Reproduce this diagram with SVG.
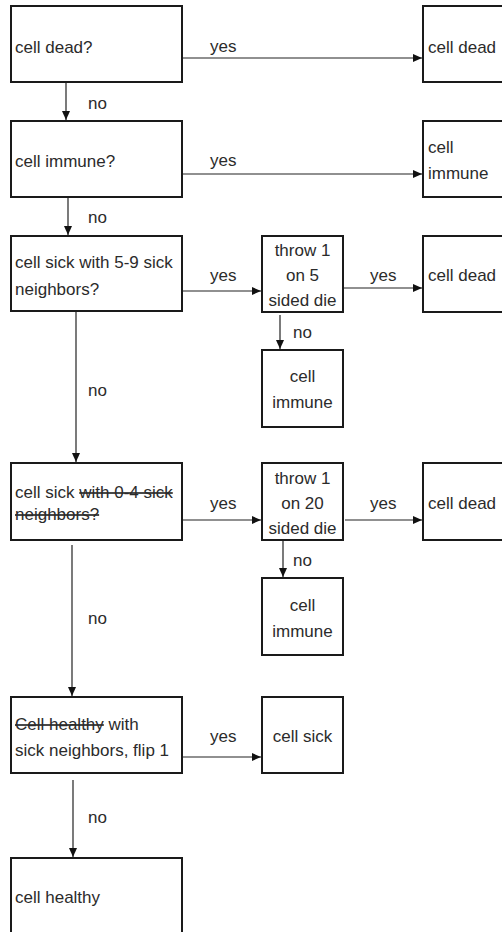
<svg xmlns="http://www.w3.org/2000/svg" width="502" height="932" viewBox="0 0 502 932">
  <style>
    .box { fill: #ffffff; stroke: #1a1a1a; stroke-width: 2; }
    .edge { fill: none; stroke: #222222; stroke-width: 1.2; marker-end: url(#arrow); }
    text { font-family: "Liberation Sans", Arial, sans-serif; font-size: 17px; fill: #2b2b2b; }
    .c { text-anchor: middle; }
    .strike { text-decoration: line-through; }
  </style>
  <defs>
    <marker id="arrow" markerUnits="userSpaceOnUse" markerWidth="10" markerHeight="9" refX="9" refY="4" orient="auto">
      <path d="M0,0 L9,4 L0,8 z" fill="#111111"/>
    </marker>
  </defs>

  <!-- connectors -->
  <g id="connectors">
    <line class="edge" x1="182" y1="58" x2="422" y2="58"/>
    <line class="edge" x1="66" y1="82" x2="66" y2="120"/>
    <line class="edge" x1="182" y1="174" x2="422" y2="174"/>
    <line class="edge" x1="68" y1="197" x2="68" y2="235"/>
    <line class="edge" x1="183" y1="291" x2="261" y2="291"/>
    <line class="edge" x1="343" y1="288" x2="422" y2="288"/>
    <line class="edge" x1="280" y1="315" x2="280" y2="349"/>
    <line class="edge" x1="76" y1="311" x2="76" y2="462"/>
    <line class="edge" x1="180" y1="520" x2="261" y2="520"/>
    <line class="edge" x1="345" y1="520" x2="422" y2="520"/>
    <line class="edge" x1="283" y1="540" x2="283" y2="577"/>
    <line class="edge" x1="72" y1="545" x2="72" y2="696"/>
    <line class="edge" x1="182" y1="757" x2="261" y2="757"/>
    <line class="edge" x1="73" y1="780" x2="73" y2="857"/>
  </g>

  <!-- edge labels -->
  <g id="labels">
    <text x="210" y="52">yes</text>
    <text x="88" y="109">no</text>
    <text x="210" y="166">yes</text>
    <text x="88" y="223">no</text>
    <text x="210" y="281">yes</text>
    <text x="370" y="281">yes</text>
    <text x="293" y="338">no</text>
    <text x="88" y="396">no</text>
    <text x="210" y="509">yes</text>
    <text x="370" y="509">yes</text>
    <text x="293" y="566">no</text>
    <text x="88" y="624">no</text>
    <text x="210" y="742">yes</text>
    <text x="88" y="823">no</text>
  </g>

  <g id="q-dead">
    <rect class="box" x="11" y="6" width="171" height="76"/>
    <text x="15" y="53">cell dead?</text>
  </g>
  <g id="r-dead-1">
    <rect class="box" x="423" y="6" width="100" height="76"/>
    <text x="428" y="53">cell dead</text>
  </g>

  <g id="q-immune">
    <rect class="box" x="11" y="121" width="171" height="76"/>
    <text x="15" y="167">cell immune?</text>
  </g>
  <g id="r-immune-1">
    <rect class="box" x="423" y="121" width="100" height="76"/>
    <text x="428" y="153">cell</text>
    <text x="428" y="179">immune</text>
  </g>

  <g id="q-sick-5-9">
    <rect class="box" x="11" y="236" width="171" height="75"/>
    <text x="15" y="268">cell sick with 5-9 sick</text>
    <text x="15" y="295">neighbors?</text>
  </g>
  <g id="die-5">
    <rect class="box" x="262" y="236" width="81" height="76"/>
    <text class="c" x="302.5" y="256">throw 1</text>
    <text class="c" x="302.5" y="281">on 5</text>
    <text class="c" x="302.5" y="306">sided die</text>
  </g>
  <g id="r-dead-2">
    <rect class="box" x="423" y="236" width="100" height="76"/>
    <text x="428" y="281">cell dead</text>
  </g>
  <g id="r-immune-2">
    <rect class="box" x="262" y="350" width="81" height="77"/>
    <text class="c" x="302.5" y="382">cell</text>
    <text class="c" x="302.5" y="408">immune</text>
  </g>

  <g id="q-sick-0-4">
    <rect class="box" x="11" y="463" width="171" height="77"/>
    <text x="15" y="498">cell sick <tspan class="strike">with 0-4 sick</tspan></text>
    <text x="15" y="520" class="strike">neighbors?</text>
  </g>
  <g id="die-20">
    <rect class="box" x="262" y="463" width="81" height="77"/>
    <text class="c" x="302.5" y="484">throw 1</text>
    <text class="c" x="302.5" y="509">on 20</text>
    <text class="c" x="302.5" y="534">sided die</text>
  </g>
  <g id="r-dead-3">
    <rect class="box" x="423" y="463" width="100" height="77"/>
    <text x="428" y="509">cell dead</text>
  </g>
  <g id="r-immune-3">
    <rect class="box" x="262" y="578" width="81" height="77"/>
    <text class="c" x="302.5" y="611">cell</text>
    <text class="c" x="302.5" y="637">immune</text>
  </g>

  <g id="q-healthy">
    <rect class="box" x="11" y="697" width="171" height="76"/>
    <text x="15" y="730"><tspan class="strike">Cell healthy</tspan> with</text>
    <text x="15" y="756">sick neighbors, flip 1</text>
  </g>
  <g id="r-sick">
    <rect class="box" x="262" y="697" width="81" height="76"/>
    <text class="c" x="302.5" y="742">cell sick</text>
  </g>

  <g id="r-healthy">
    <rect class="box" x="11" y="858" width="171" height="100"/>
    <text x="15" y="903">cell healthy</text>
  </g>
</svg>
